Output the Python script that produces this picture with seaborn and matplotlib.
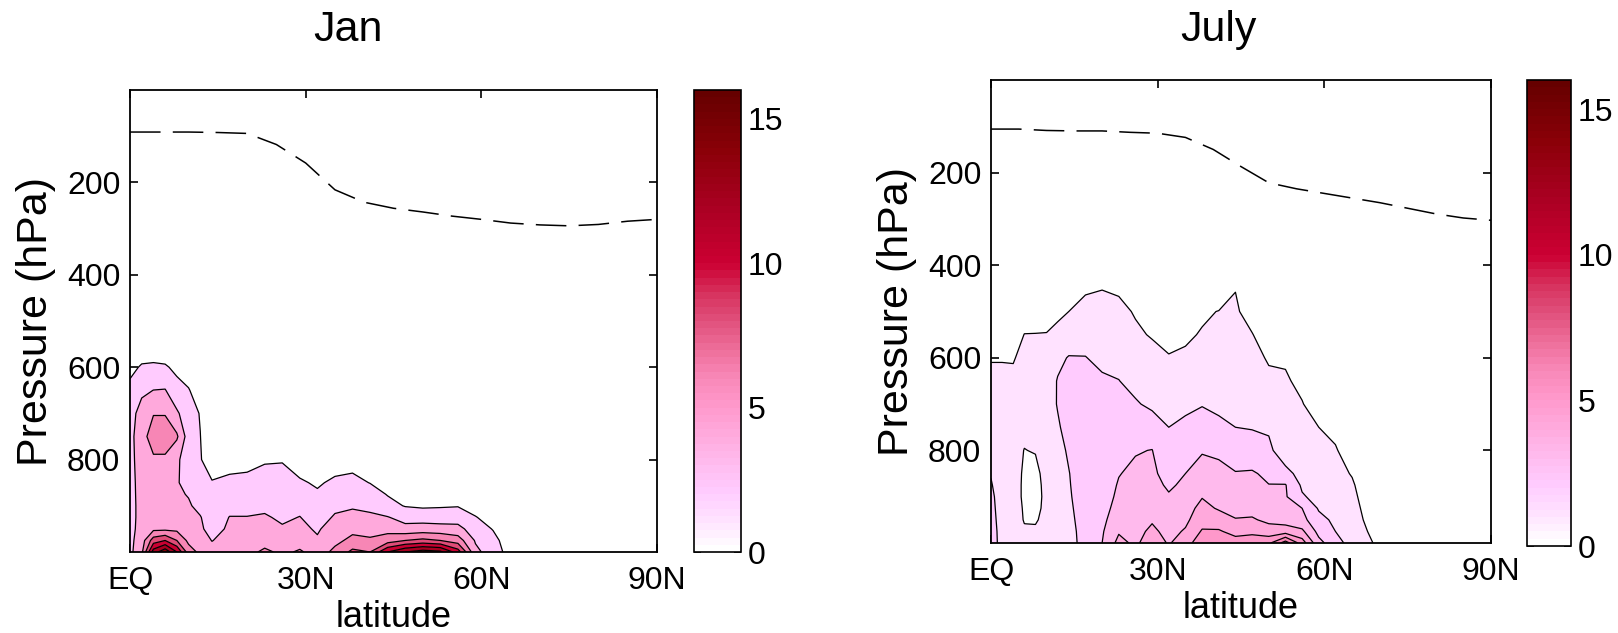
import numpy as np
import matplotlib
matplotlib.use("Agg")
import matplotlib.pyplot as plt
from matplotlib.colors import LinearSegmentedColormap, Normalize
import matplotlib.cm as cm
import seaborn as sns

# Breitengrade (Spalten) und Druckflaechen (von unten nach oben)
lat = [0, 2, 4, 6, 8, 10, 12, 14, 17, 20, 23, 26, 29, 32, 35, 38, 41, 44, 47, 50, 53, 56, 59, 62, 65, 70, 90]
plev = [1000, 975, 950, 925, 900, 875, 850, 800, 750, 700, 650, 600, 550, 500, 450, 400]

# Januar: eine Liste je Breitengrad, Werte von 1000 hPa nach oben
jan = [
    [3.5, 3.5, 3.5, 3.5, 3.5, 3.5, 3.5, 3.5, 3.4, 3.2, 2.5, 1.5, 0.5, 0, 0, 0],
    [5.5, 5.0, 4.6, 4.5, 4.5, 4.55, 4.6, 4.8, 5.2, 4.8, 3.6, 2.2, 0.8, 0, 0, 0],
    [13, 9, 5.5, 5, 5, 5.05, 5.1, 5.7, 7.0, 5.9, 4.02, 2.3, 0.8, 0, 0, 0],
    [15.5, 10, 5.5, 5, 5, 5.05, 5.1, 5.7, 7.0, 5.9, 4.1, 2.2, 0.7, 0, 0, 0],
    [12, 8, 5.5, 4.6, 4.4, 4.25, 4.1, 4.3, 6.3, 4.3, 2.6, 1.6, 0.5, 0, 0, 0],
    [7, 5.5, 4.8, 4.5, 4.2, 3.9, 3.6, 3.1, 3.0, 2.8, 2.1, 1.2, 0.4, 0, 0, 0],
    [5.5, 4.8, 4.3, 4.1, 3.5, 3.1, 2.8, 2.1, 2.03, 1.9, 1.2, 0.6, 0.2, 0, 0, 0],
    [4.6, 3.95, 3.3, 3.0, 2.6, 2.35, 2.1, 1.2, 0.6, 0.3, 0, 0, 0, 0, 0, 0],
    [5.0, 4.6, 4.3, 4.05, 3.5, 2.95, 2.4, 1.3, 0.6, 0.2, 0, 0, 0, 0, 0, 0],
    [5.2, 4.6, 4.3, 4.05, 3.5, 3.0, 2.5, 1.4, 0.6, 0.2, 0, 0, 0, 0, 0, 0],
    [6.5, 5.0, 4.5, 4.2, 3.6, 3.2, 2.8, 1.8, 0.8, 0.3, 0, 0, 0, 0, 0, 0],
    [5.5, 4.8, 4.2, 3.7, 3.3, 2.95, 2.6, 1.9, 0.8, 0.3, 0, 0, 0, 0, 0, 0],
    [6.3, 5.0, 4.4, 4.05, 3.5, 2.85, 2.2, 1.2, 0.5, 0.2, 0, 0, 0, 0, 0, 0],
    [5.0, 4.2, 3.8, 3.2, 2.6, 2.2, 1.8, 1.0, 0.4, 0, 0, 0, 0, 0, 0, 0],
    [6.5, 5.5, 4.8, 4.2, 3.6, 2.95, 2.3, 1.2, 0.5, 0, 0, 0, 0, 0, 0, 0],
    [8.5, 6.5, 5.5, 4.5, 3.8, 3.15, 2.5, 1.3, 0.5, 0, 0, 0, 0, 0, 0, 0],
    [8.0, 6.3, 5.2, 4.3, 3.6, 2.8, 1.95, 1.0, 0.4, 0, 0, 0, 0, 0, 0, 0],
    [12, 7.0, 5.3, 4.1, 2.6, 1.9, 1.2, 0.5, 0.1, 0, 0, 0, 0, 0, 0, 0],
    [14, 8.0, 4.6, 3.3, 1.9, 1.35, 0.8, 0.3, 0, 0, 0, 0, 0, 0, 0, 0],
    [15, 8.5, 4.8, 3.2, 1.7, 1.15, 0.6, 0.2, 0, 0, 0, 0, 0, 0, 0, 0],
    [14.5, 8.0, 4.7, 3.1, 1.8, 1.2, 0.6, 0.2, 0, 0, 0, 0, 0, 0, 0, 0],
    [11, 7.0, 4.6, 3.1, 1.9, 1.25, 0.6, 0.1, 0, 0, 0, 0, 0, 0, 0, 0],
    [4.5, 3.8, 3.0, 2.1, 1.2, 0.8, 0.4, 0, 0, 0, 0, 0, 0, 0, 0, 0],
    [3.0, 2.6, 1.9, 1.2, 0.6, 0.35, 0.1, 0, 0, 0, 0, 0, 0, 0, 0, 0],
    [1.2, 0.9, 0.6, 0.3, 0.1, 0.05, 0, 0, 0, 0, 0, 0, 0, 0, 0, 0],
    [0, 0, 0, 0, 0, 0, 0, 0, 0, 0, 0, 0, 0, 0, 0, 0],
    [0, 0, 0, 0, 0, 0, 0, 0, 0, 0, 0, 0, 0, 0, 0, 0],
]

# Juli
july = [
    [2.4, 2.35, 2.3, 2.25, 2.2, 2.07, 1.95, 1.7, 1.5, 1.4, 1.2, 0.95, 0.5, 0.2, 0, 0],
    [1.7, 1.7, 1.65, 1.6, 1.55, 1.52, 1.5, 1.45, 1.4, 1.35, 1.2, 0.95, 0.5, 0.2, 0, 0],
    [1.5, 1.45, 1.4, 1.35, 1.3, 1.3, 1.3, 1.3, 1.3, 1.3, 1.15, 0.95, 0.5, 0.2, 0, 0],
    [1.3, 1.1, 0.95, 0.92, 0.88, 0.88, 0.9, 0.98, 1.2, 1.3, 1.3, 1.2, 1.02, 0.5, 0.1, 0],
    [1.3, 1.15, 0.9, 0.7, 0.6, 0.65, 0.75, 1.05, 1.25, 1.35, 1.35, 1.25, 1.03, 0.5, 0.1, 0],
    [1.4, 1.35, 1.3, 1.3, 1.3, 1.32, 1.35, 1.45, 1.55, 1.6, 1.55, 1.4, 1.05, 0.5, 0.1, 0],
    [1.5, 1.5, 1.5, 1.5, 1.5, 1.55, 1.6, 1.75, 1.9, 2.05, 2.05, 1.8, 1.25, 0.8, 0.3, 0],
    [1.7, 1.75, 1.8, 1.85, 1.9, 1.94, 1.97, 2.1, 2.3, 2.4, 2.4, 2.05, 1.5, 1.0, 0.4, 0],
    [2.3, 2.3, 2.35, 2.4, 2.45, 2.47, 2.5, 2.6, 2.7, 2.7, 2.5, 2.03, 1.6, 1.25, 0.9, 0.3],
    [3.0, 2.9, 2.8, 2.7, 2.65, 2.62, 2.6, 2.6, 2.6, 2.45, 2.15, 1.75, 1.5, 1.25, 0.98, 0.4],
    [4.3, 3.9, 3.5, 3.3, 3.15, 3.06, 2.97, 2.7, 2.5, 2.2, 2.02, 1.7, 1.3, 1.15, 0.92, 0.2],
    [3.8, 3.7, 3.55, 3.4, 3.3, 3.22, 3.15, 2.95, 2.55, 2.1, 1.7, 1.4, 1.1, 0.95, 0.5, 0],
    [4.6, 4.2, 3.9, 3.6, 3.45, 3.32, 3.2, 3.02, 2.5, 1.8, 1.5, 1.2, 0.95, 0.6, 0.2, 0],
    [3.9, 3.7, 3.5, 3.3, 3.1, 2.85, 2.6, 2.25, 2.0, 1.7, 1.3, 1.05, 0.75, 0.4, 0.1, 0],
    [4.6, 4.1, 3.8, 3.6, 3.4, 3.2, 3.0, 2.6, 2.2, 1.8, 1.4, 1.1, 0.9, 0.5, 0.1, 0],
    [5.6, 5.1, 4.6, 4.3, 3.95, 3.7, 3.5, 2.9, 2.4, 1.95, 1.6, 1.3, 1.05, 0.9, 0.3, 0],
    [5.5, 5.1, 4.5, 3.9, 3.6, 3.45, 3.3, 2.8, 2.15, 1.85, 1.6, 1.35, 1.15, 1.02, 0.5, 0],
    [5.4, 4.7, 4.05, 3.7, 3.5, 3.27, 3.05, 2.5, 2.0, 1.75, 1.55, 1.35, 1.2, 1.1, 0.98, 0.3],
    [5.5, 4.8, 4.1, 3.7, 3.5, 3.3, 3.1, 2.4, 1.95, 1.6, 1.35, 1.15, 1.03, 0.7, 0.2, 0],
    [5.8, 4.4, 3.8, 3.45, 3.25, 3.02, 2.8, 2.25, 1.85, 1.5, 1.1, 0.95, 0.6, 0.2, 0, 0],
    [7.5, 4.5, 3.6, 3.25, 3.1, 3.05, 2.35, 1.3, 1.2, 1.1, 1.05, 0.95, 0.55, 0.2, 0, 0],
    [5.5, 4.2, 3.3, 3.0, 2.1, 1.85, 1.6, 1.35, 1.15, 1.02, 0.9, 0.7, 0.4, 0.1, 0, 0],
    [3.3, 2.7, 2.3, 1.9, 1.7, 1.55, 1.4, 1.2, 1.0, 0.8, 0.6, 0.4, 0.2, 0, 0, 0],
    [2.4, 2.0, 1.8, 1.6, 1.45, 1.35, 1.25, 1.05, 0.85, 0.6, 0.4, 0.2, 0, 0, 0, 0],
    [1.6, 1.5, 1.4, 1.3, 1.2, 1.1, 0.95, 0.7, 0.5, 0.3, 0.1, 0, 0, 0, 0, 0],
    [0.8, 0.6, 0.4, 0.3, 0.2, 0.1, 0.05, 0, 0, 0, 0, 0, 0, 0, 0, 0],
    [0, 0, 0, 0, 0, 0, 0, 0, 0, 0, 0, 0, 0, 0, 0, 0],
]

# Tropopause (gestrichelt)
trop_lat = [0, 5, 10, 15, 20, 25, 30, 35, 40, 45, 50, 55, 60, 65, 70, 75, 80, 85, 90]
trop_jan = [91, 91, 91, 92, 94, 118, 158, 216, 243, 256, 264, 273, 280, 288, 292, 294, 291, 284, 280]
trop_july = [106, 106, 109, 110, 110, 113, 115, 124, 150, 187, 222, 235, 245, 255, 265, 277, 289, 298, 303]

lat_ticks = [0, 30, 60, 90]
lat_labels = ['EQ', '30N', '60N', '90N']
p_ticks = [200, 400, 600, 800]
cb_ticks = [0, 5, 10, 15]

sns.set_style("ticks")
plt.rcParams['font.family'] = ['Liberation Sans', 'DejaVu Sans']
plt.rcParams['text.color'] = 'k'
plt.rcParams['axes.labelcolor'] = 'k'
plt.rcParams['xtick.color'] = 'k'
plt.rcParams['ytick.color'] = 'k'

# Farbskala weiss -> rosa -> dunkelrot (0..16)
stops = [(0, '#ffffff'), (1, '#ffe2ff'), (2, '#ffccff'), (3, '#ffbbee'), (4, '#ffaadd'),
         (5, '#ff99cc'), (6, '#f888b8'), (7, '#ee6e9a'), (8, '#e0507c'), (9, '#d6305c'),
         (10, '#cc0033'), (12, '#aa0022'), (14, '#8a0008'), (16, '#660000')]
cmap = LinearSegmentedColormap.from_list('wpr', [(v / 16, c) for v, c in stops], N=64)
norm = Normalize(0, 16)

fig = plt.figure(figsize=(16.18, 6.33), dpi=100)

panels = [
    ('Jan', jan, trop_jan, [2, 4, 6, 8, 10, 12, 14, 16],
     [130, 90, 527, 462], [694, 90, 47, 462], 348),
    ('July', july, trop_july, [1, 2, 3, 4, 5, 6, 7, 8],
     [991, 80, 500, 463], [1527, 80, 44, 466], 1218),
]

W, H = 1618, 633
for title, field, trop, levels, abox, cbox, tx in panels:
    ax = fig.add_axes([abox[0] / W, 1 - (abox[1] + abox[3]) / H, abox[2] / W, abox[3] / H])
    cax = fig.add_axes([cbox[0] / W, 1 - (cbox[1] + cbox[3]) / H, cbox[2] / W, cbox[3] / H])

    z = np.array(field).T
    X, Y = np.meshgrid(lat, plev)
    # Flaeche zwischen zwei Stufen bekommt die Farbe der unteren Stufe
    fill_cols = [cmap(norm(l)) for l in levels[:-1]]
    ax.contourf(X, Y, z, levels=levels, colors=fill_cols, antialiased=True)
    ax.contour(X, Y, z, levels=levels, colors='k', linewidths=0.9)

    sns.lineplot(x=trop_lat, y=trop, ax=ax, color='k', linewidth=1.1,
                 linestyle=(0, (20, 8)))

    ax.set_xlim(0, 90)
    ax.set_ylim(1000, 0)
    ax.set_xticks(lat_ticks)
    ax.set_xticklabels(lat_labels)
    ax.set_yticks(p_ticks)
    ax.tick_params(direction='in', top=True, right=True, bottom=True, left=True,
                   length=6, width=1.2, labelsize=23, colors='k')
    ax.tick_params(axis='x', pad=10)
    ax.tick_params(axis='y', pad=7)
    for s in ax.spines.values():
        s.set_linewidth(1.3)
        s.set_color('k')
    ax.set_xlabel('latitude', fontsize=26, labelpad=3)
    ax.set_ylabel('Pressure (hPa)', fontsize=31, labelpad=8)

    sm = cm.ScalarMappable(norm=norm, cmap=cmap)
    cb = fig.colorbar(sm, cax=cax, ticks=cb_ticks)
    cb.outline.set_linewidth(1.2)
    cb.outline.set_edgecolor('k')
    cax.tick_params(direction='in', left=True, right=True, length=5, width=1.2,
                    labelsize=23, pad=5, colors='k')

    fig.text(tx / W, 1 - 30 / H, title, ha='center', va='center', fontsize=31)

fig.savefig('out.png', dpi=100)
